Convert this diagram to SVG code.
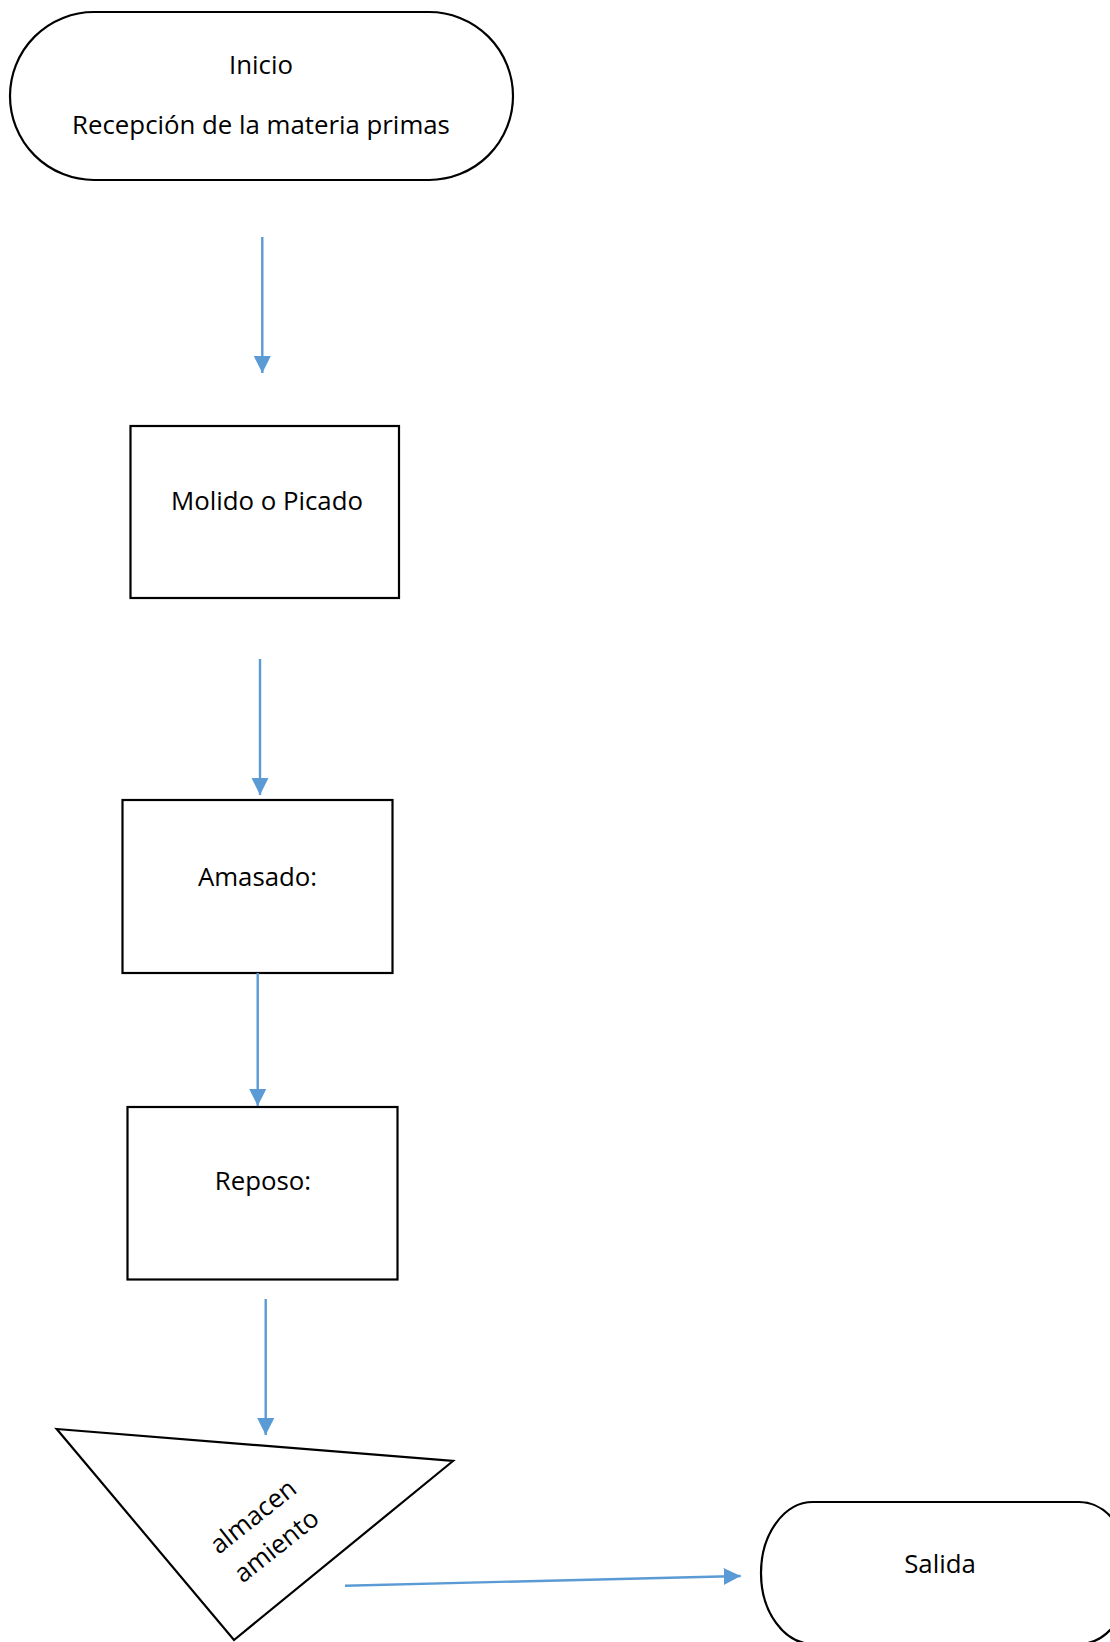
<svg xmlns="http://www.w3.org/2000/svg" width="1110" height="1642" viewBox="0 0 1110 1642">
<style>
.shape{fill:#ffffff;stroke:#000000;stroke-width:2.2}
.lbl{font-family:"Open Sans","Liberation Sans",sans-serif;font-size:25.8px;fill:#000000;text-anchor:middle}
.conn{stroke:#5B9BD5;stroke-width:2.4;fill:none}
</style>
<defs>
<marker id="ah" markerUnits="userSpaceOnUse" markerWidth="18" markerHeight="18" refX="17" refY="8.5" orient="auto">
<path d="M0,0 L17,8.5 L0,17 Z" fill="#5B9BD5"/>
</marker>
</defs>
<rect width="1110" height="1642" fill="#ffffff"/>
<g id="inicio">
<rect class="shape" x="10" y="12" width="503" height="168" rx="84" ry="84"/>
<text class="lbl" x="261" y="74">Inicio</text>
<text class="lbl" x="261" y="134">Recepción de la materia primas</text>
</g>
<g id="molido">
<rect class="shape" x="130.5" y="426" width="268.5" height="172"/>
<text class="lbl" x="267" y="510">Molido o Picado</text>
</g>
<g id="amasado">
<rect class="shape" x="122.5" y="800" width="270" height="173"/>
<text class="lbl" x="257.5" y="886">Amasado:</text>
</g>
<g id="reposo">
<rect class="shape" x="127.5" y="1107" width="270" height="172.5"/>
<text class="lbl" x="263" y="1190">Reposo:</text>
</g>
<g id="almacenamiento">
<polygon class="shape" points="56.7,1429 453,1461 234,1640"/>
<g transform="translate(265.3,1532) rotate(-38.5)">
<text class="lbl" x="0" y="-11">almacen</text>
<text class="lbl" x="0" y="26.5">amiento</text>
</g>
</g>
<g id="salida">
<rect class="shape" x="761" y="1502" width="370" height="142" rx="52" ry="71"/>
<text class="lbl" x="940" y="1573">Salida</text>
</g>
<g id="connectors">
<line class="conn" x1="262.3" y1="237" x2="262.3" y2="373" marker-end="url(#ah)"/>
<line class="conn" x1="260" y1="659" x2="260" y2="795" marker-end="url(#ah)"/>
<line class="conn" x1="257.7" y1="973" x2="257.7" y2="1106" marker-end="url(#ah)"/>
<line class="conn" x1="265.7" y1="1299" x2="265.7" y2="1435" marker-end="url(#ah)"/>
<line class="conn" x1="345" y1="1585.7" x2="740.7" y2="1576" marker-end="url(#ah)"/>
</g>
</svg>
